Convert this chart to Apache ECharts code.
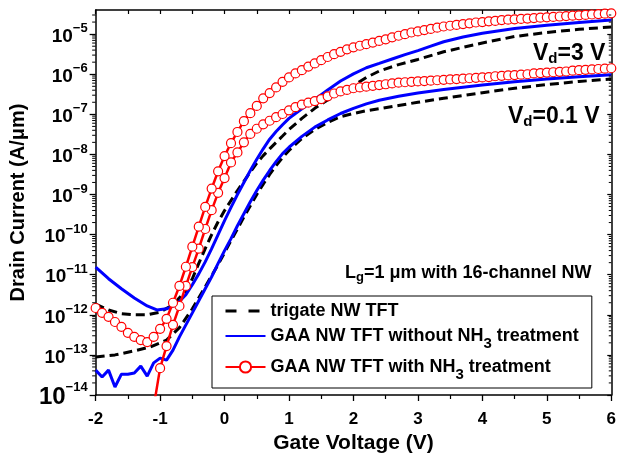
<!DOCTYPE html>
<html><head><meta charset="utf-8">
<script src="https://cdn.jsdelivr.net/npm/echarts@6/dist/echarts.min.js"></script>
<style>html,body{margin:0;padding:0;background:#fff}#c{width:619px;height:459px}</style>
</head><body><div id="c"></div>
<script>
// Gate voltage (V) and drain current (A/um)
const vgRedHi = [-2,-1.9,-1.8,-1.7,-1.6,-1.5,-1.4,-1.3,-1.2,-1.1,-1,-0.9,-0.8,-0.7,-0.6,-0.5,-0.4,-0.3,-0.2,-0.1,0,0.1,0.2,0.3,0.4,0.5,0.6,0.7,0.8,0.9,1,1.1,1.2,1.3,1.4,1.5,1.6,1.7,1.8,1.9,2,2.1,2.2,2.3,2.4,2.5,2.6,2.7,2.8,2.9,3,3.1,3.2,3.3,3.4,3.5,3.6,3.7,3.8,3.9,4,4.1,4.2,4.3,4.4,4.5,4.6,4.7,4.8,4.9,5,5.1,5.2,5.3,5.4,5.5,5.6,5.7,5.8,5.9,6];
const idRedHi = [1.48e-12,1.12e-12,8.91e-13,6.61e-13,5.01e-13,3.55e-13,2.82e-13,2.34e-13,2.09e-13,2.82e-13,4.47e-13,7.94e-13,2.00e-12,5.25e-12,1.58e-11,5.01e-11,1.58e-10,4.90e-10,1.41e-9,3.80e-9,9.12e-9,1.91e-8,3.63e-8,6.76e-8,1.07e-7,1.62e-7,2.51e-7,3.39e-7,4.68e-7,6.46e-7,8.32e-7,1.05e-6,1.26e-6,1.55e-6,1.86e-6,2.24e-6,2.69e-6,3.16e-6,3.63e-6,4.17e-6,4.68e-6,5.13e-6,5.62e-6,6.17e-6,6.76e-6,7.41e-6,8.32e-6,9.12e-6,1.00e-5,1.10e-5,1.17e-5,1.26e-5,1.35e-5,1.45e-5,1.55e-5,1.62e-5,1.70e-5,1.78e-5,1.86e-5,1.95e-5,2.00e-5,2.09e-5,2.14e-5,2.24e-5,2.29e-5,2.34e-5,2.40e-5,2.45e-5,2.51e-5,2.57e-5,2.63e-5,2.69e-5,2.75e-5,2.82e-5,2.88e-5,2.95e-5,3.02e-5,3.09e-5,3.16e-5,3.24e-5,3.31e-5];

const vgRedLo = [-1.1,-1,-0.9,-0.8,-0.7,-0.6,-0.5,-0.4,-0.3,-0.2,-0.1,0,0.1,0.2,0.3,0.4,0.5,0.6,0.7,0.8,0.9,1,1.1,1.2,1.3,1.4,1.5,1.6,1.7,1.8,1.9,2,2.1,2.2,2.3,2.4,2.5,2.6,2.7,2.8,2.9,3,3.1,3.2,3.3,3.4,3.5,3.6,3.7,3.8,3.9,4,4.1,4.2,4.3,4.4,4.5,4.6,4.7,4.8,4.9,5,5.1,5.2,5.3,5.4,5.5,5.6,5.7,5.8,5.9,6];
const idRedLo = [5.0e-15,4.68e-14,1.66e-13,5.62e-13,1.66e-12,5.25e-12,1.55e-11,4.47e-11,1.38e-10,4.07e-10,1.10e-9,2.57e-9,6.31e-9,1.12e-8,2.00e-8,3.24e-8,4.37e-8,5.62e-8,6.92e-8,8.51e-8,1.02e-7,1.26e-7,1.51e-7,1.74e-7,1.95e-7,2.14e-7,2.40e-7,2.82e-7,3.31e-7,3.72e-7,4.07e-7,4.47e-7,4.68e-7,4.90e-7,5.13e-7,5.37e-7,5.62e-7,5.89e-7,6.17e-7,6.31e-7,6.46e-7,6.61e-7,6.76e-7,6.92e-7,7.08e-7,7.24e-7,7.41e-7,7.59e-7,7.76e-7,7.94e-7,8.13e-7,8.32e-7,8.51e-7,8.91e-7,9.12e-7,9.33e-7,9.55e-7,9.77e-7,1.00e-6,1.05e-6,1.07e-6,1.10e-6,1.12e-6,1.15e-6,1.17e-6,1.23e-6,1.26e-6,1.29e-6,1.32e-6,1.35e-6,1.38e-6,1.41e-6];

const vgBlueHi = [-2,-1.8,-1.6,-1.4,-1.2,-1.05,-0.9,-0.75,-0.6,-0.5,-0.4,-0.3,-0.2,-0.1,0,0.1,0.2,0.3,0.4,0.5,0.6,0.7,0.8,0.9,1,1.1,1.2,1.3,1.4,1.5,1.6,1.8,2,2.2,2.4,2.6,2.8,3,3.2,3.4,3.7,4,4.5,5,5.5,6];
const idBlueHi = [1.55e-11,7.94e-12,4.47e-12,2.63e-12,1.66e-12,1.32e-12,1.41e-12,1.78e-12,3.16e-12,5.62e-12,1.05e-11,2.09e-11,4.47e-11,1.00e-10,2.24e-10,4.79e-10,1.00e-9,2.00e-9,3.98e-9,7.59e-9,1.38e-8,2.40e-8,3.72e-8,5.50e-8,7.94e-8,1.05e-7,1.38e-7,1.78e-7,2.34e-7,3.09e-7,4.07e-7,6.76e-7,1.02e-6,1.45e-6,1.86e-6,2.40e-6,3.09e-6,3.89e-6,5.01e-6,6.46e-6,8.51e-6,1.05e-5,1.38e-5,1.66e-5,1.95e-5,2.24e-5];

const vgBlueLo = [-2,-1.9,-1.8,-1.7,-1.6,-1.5,-1.4,-1.3,-1.2,-1.1,-1,-0.9,-0.8,-0.7,-0.6,-0.5,-0.4,-0.3,-0.2,-0.1,0,0.1,0.2,0.3,0.4,0.5,0.6,0.7,0.8,0.9,1,1.2,1.4,1.6,1.8,2,2.2,2.4,2.7,3,3.4,4,4.5,5,5.5,6];
const idBlueLo = [4.17e-14,2.82e-14,4.17e-14,1.58e-14,3.31e-14,3.31e-14,3.55e-14,5.25e-14,2.95e-14,6.31e-14,8.32e-14,7.41e-14,1.32e-13,2.82e-13,5.62e-13,1.12e-12,2.24e-12,4.47e-12,8.91e-12,1.91e-11,3.98e-11,7.94e-11,1.66e-10,3.31e-10,6.61e-10,1.26e-9,2.29e-9,3.98e-9,6.61e-9,1.05e-8,1.51e-8,2.82e-8,4.79e-8,7.24e-8,1.05e-7,1.41e-7,1.82e-7,2.24e-7,2.82e-7,3.39e-7,4.17e-7,5.37e-7,6.46e-7,7.59e-7,8.71e-7,9.77e-7];

const vgTriHi = [-2,-1.8,-1.6,-1.4,-1.2,-1,-0.8,-0.6,-0.5,-0.4,-0.3,-0.2,-0.1,0,0.1,0.2,0.3,0.4,0.5,0.6,0.7,0.8,0.9,1,1.2,1.4,1.6,1.8,2,2.2,2.4,2.7,3,3.4,4,4.5,5,5.5,6];
const idTriHi = [1.86e-12,1.32e-12,1.07e-12,1.00e-12,1.00e-12,1.17e-12,1.78e-12,3.98e-12,7.94e-12,1.91e-11,4.47e-11,1.00e-10,2.09e-10,3.98e-10,7.08e-10,1.26e-9,2.14e-9,3.63e-9,6.03e-9,9.33e-9,1.38e-8,2.00e-8,2.88e-8,4.17e-8,7.94e-8,1.41e-7,2.29e-7,3.47e-7,5.25e-7,8.32e-7,1.20e-6,1.74e-6,2.34e-6,3.63e-6,6.03e-6,8.71e-6,1.10e-5,1.32e-5,1.51e-5];

const vgTriLo = [-2,-1.7,-1.4,-1.15,-0.9,-0.7,-0.5,-0.3,-0.1,0,0.1,0.2,0.3,0.4,0.5,0.6,0.7,0.8,0.9,1,1.2,1.4,1.6,1.8,2,2.2,2.4,2.7,3,3.4,4,4.5,5,5.5,6];
const idTriLo = [8.91e-14,1.00e-13,1.26e-13,1.58e-13,2.34e-13,4.79e-13,1.41e-12,5.01e-12,1.78e-11,3.55e-11,7.08e-11,1.38e-10,2.75e-10,5.25e-10,1.00e-9,1.82e-9,3.16e-9,5.25e-9,8.32e-9,1.26e-8,2.51e-8,4.17e-8,6.31e-8,8.71e-8,1.05e-7,1.23e-7,1.38e-7,1.66e-7,2.00e-7,2.51e-7,3.47e-7,4.47e-7,5.50e-7,6.61e-7,7.59e-7];

const legendNames = ['trigate NW TFT','GAA NW TFT without NH3 treatment','GAA NW TFT with NH3 treatment'];
const xMin = -2, xMax = 6, yMin = 1e-14, yMax = 4e-5;

const F = '"Liberation Sans", Arial, sans-serif';
function pts(xs, ys){ return xs.map((x,i)=>[x, ys[i]]); }

// logarithmic minor tick positions (2..9 x each decade) for the y axis frame
const minorTickVals = [];
for (let e = -14; e <= -5; e++) for (let m = 2; m <= 9; m++) { const v = m * Math.pow(10, e); if (v < yMax) minorTickVals.push(v); }

const chart = echarts.init(document.getElementById('c'), null, {renderer:'canvas'});
const dashed = {color:'#000', width:3, type:[9,5]};
const blue = {color:'#0000ff', width:3};
const red = {color:'#ff0000', width:2.5};
const redSeries = (d)=>({name:legendNames[2], type:'line', data:d, symbol:'circle', symbolSize:9, showAllSymbol:true,
  itemStyle:{color:'#fff', borderColor:'#ff0000', borderWidth:1.2}, lineStyle:red, z:5});

chart.setOption({
  animation:false,
  backgroundColor:'#fff',
  grid:{left:95, right:5, top:10, bottom:64, containLabel:false},
  xAxis:[{
    type:'value', min:xMin, max:xMax, interval:1, position:'bottom',
    axisLine:{show:true, onZero:false, lineStyle:{color:'#000', width:1.5}},
    axisTick:{show:true, inside:false, length:6, lineStyle:{color:'#000', width:1.3}},
    minorTick:{show:true, splitNumber:2, length:4, lineStyle:{color:'#000', width:1.2}},
    splitLine:{show:false},
    axisLabel:{color:'#000', fontSize:17, fontWeight:'bold', fontFamily:F, margin:16, formatter:v=>String(v)},
    name:'Gate Voltage (V)', nameLocation:'middle', nameGap:36,
    nameTextStyle:{color:'#000', fontSize:21, fontWeight:'bold', fontFamily:F}
  },{
    type:'value', min:xMin, max:xMax, interval:0.5, position:'top',
    axisLine:{show:true, onZero:false, lineStyle:{color:'#000', width:1.5}},
    axisTick:{show:true, inside:true, length:4, lineStyle:{color:'#000', width:1.2}},
    axisLabel:{show:false}, splitLine:{show:false}
  }],
  yAxis:[{
    type:'log', logBase:10, min:yMin, max:yMax, position:'left',
    axisLine:{show:true, onZero:false, lineStyle:{color:'#000', width:1.5}},
    axisTick:{show:true, inside:false, length:6, lineStyle:{color:'#000', width:1.3}},
    splitLine:{show:false},
    axisLabel:{
      margin:8, showMaxLabel:false, color:'#000',
      formatter:function(v){
        const l = Math.log10(v), e = Math.round(l);
        if (Math.abs(l - e) > 0.01 || e > -5) return '';
        if (e === -14) return '{B|10}{S|\u2212' + (-e) + '}';
        return '{b|10}{s|\u2212' + (-e) + '}';
      },
      rich:{
        b:{fontSize:19, fontWeight:'bold', fontFamily:F, color:'#000', lineHeight:24, verticalAlign:'bottom'},
        s:{fontSize:13, fontWeight:'bold', fontFamily:F, color:'#000', lineHeight:13, verticalAlign:'top'},
        B:{fontSize:24, fontWeight:'bold', fontFamily:F, color:'#000', lineHeight:28, verticalAlign:'bottom'},
        S:{fontSize:13, fontWeight:'bold', fontFamily:F, color:'#000', lineHeight:13, verticalAlign:'top'}
      }
    },
    name:'Drain Current (A/\u03bcm)', nameLocation:'middle', nameGap:60, nameRotate:90,
    nameTextStyle:{color:'#000', fontSize:20, fontWeight:'bold', fontFamily:F}
  },{
    type:'log', logBase:10, min:yMin, max:yMax, position:'right',
    axisLine:{show:true, onZero:false, lineStyle:{color:'#000', width:1.5}},
    axisTick:{show:true, inside:true, length:4, lineStyle:{color:'#000', width:1.2}},
    axisLabel:{show:false}, splitLine:{show:false}
  }],
  legend:{
    orient:'vertical', left:212, top:296, selectedMode:false,
    data:[
      {name:legendNames[0], itemStyle:{opacity:0}, lineStyle:{type:[11,12], width:3}},
      {name:legendNames[1], itemStyle:{opacity:0}},
      {name:legendNames[2]}
    ],
    itemWidth:40, itemHeight:14, itemGap:7,
    borderColor:'#000', borderWidth:1, borderRadius:0, padding:[6,13,6,12],
    backgroundColor:'#fff',
    formatter:function(n){
      const i = n.indexOf('NH3');
      if (i < 0) return '{t|' + n + '}';
      return '{u|' + n.slice(0, i+2) + '}{sub|3}{u|' + n.slice(i+3) + '}';
    },
    textStyle:{color:'#000', fontSize:18, fontWeight:'bold', fontFamily:F,
      rich:{
        t:{fontSize:18, fontWeight:'bold', fontFamily:F, color:'#000', lineHeight:20},
        u:{fontSize:18, fontWeight:'bold', fontFamily:F, color:'#000', lineHeight:30, verticalAlign:'middle'},
        sub:{fontSize:15, fontWeight:'bold', fontFamily:F, color:'#000', lineHeight:16, verticalAlign:'bottom'}
      }
    }
  },
  graphic:[
    {type:'text', left:533, top:39, z:100, style:{text:'{v|V}{d|d}{v|=3 V}', rich:{
      v:{fontSize:23, fontWeight:'bold', fontFamily:F, fill:'#000', lineHeight:24, verticalAlign:'top'},
      d:{fontSize:15, fontWeight:'bold', fontFamily:F, fill:'#000', lineHeight:15, padding:[12,0,0,0], verticalAlign:'bottom'}}}},
    {type:'text', left:508, top:102, z:100, style:{text:'{v|V}{d|d}{v|=0.1 V}', rich:{
      v:{fontSize:23, fontWeight:'bold', fontFamily:F, fill:'#000', lineHeight:24, verticalAlign:'top'},
      d:{fontSize:15, fontWeight:'bold', fontFamily:F, fill:'#000', lineHeight:15, padding:[12,0,0,0], verticalAlign:'bottom'}}}},
    {type:'text', left:345, top:261, z:100, style:{text:'{v|L}{d|g}{v|=1 \u03bcm with 16-channel NW}', rich:{
      v:{fontSize:18, fontWeight:'bold', fontFamily:F, fill:'#000', lineHeight:20, verticalAlign:'top'},
      d:{fontSize:13, fontWeight:'bold', fontFamily:F, fill:'#000', lineHeight:13, padding:[10,0,0,0], verticalAlign:'bottom'}}}}
  ],
  series:[
    {name:legendNames[0], type:'line', data:pts(vgTriLo, idTriLo), symbol:'none', lineStyle:dashed, itemStyle:{color:'#000'}, z:2},
    {name:legendNames[0], type:'line', data:pts(vgTriHi, idTriHi), symbol:'none', lineStyle:dashed, itemStyle:{color:'#000'}, z:2},
    {name:legendNames[1], type:'line', data:pts(vgBlueLo, idBlueLo), symbol:'none', lineStyle:blue, itemStyle:{color:'#0000ff'}, z:3},
    {name:legendNames[1], type:'line', data:pts(vgBlueHi, idBlueHi), symbol:'none', lineStyle:blue, itemStyle:{color:'#0000ff'}, z:3},
    redSeries(pts(vgRedLo, idRedLo)),
    redSeries(pts(vgRedHi, idRedHi)),
    {type:'custom', coordinateSystem:'cartesian2d', xAxisIndex:0, yAxisIndex:0, silent:true, clip:false, z:10,
      data:minorTickVals.map(v=>[xMin, v]),
      renderItem:function(params, api){
        const v = api.value(1);
        const p = api.coord([xMin, v]), q = api.coord([xMax, v]);
        return {type:'group', children:[
          {type:'line', shape:{x1:p[0]-3.5, y1:p[1], x2:p[0], y2:p[1]}, style:{stroke:'#000', lineWidth:1}},
          {type:'line', shape:{x1:q[0]-2.5, y1:q[1], x2:q[0], y2:q[1]}, style:{stroke:'#000', lineWidth:1}}
        ]};
      }
    }
  ]
});
</script>
</body></html>
